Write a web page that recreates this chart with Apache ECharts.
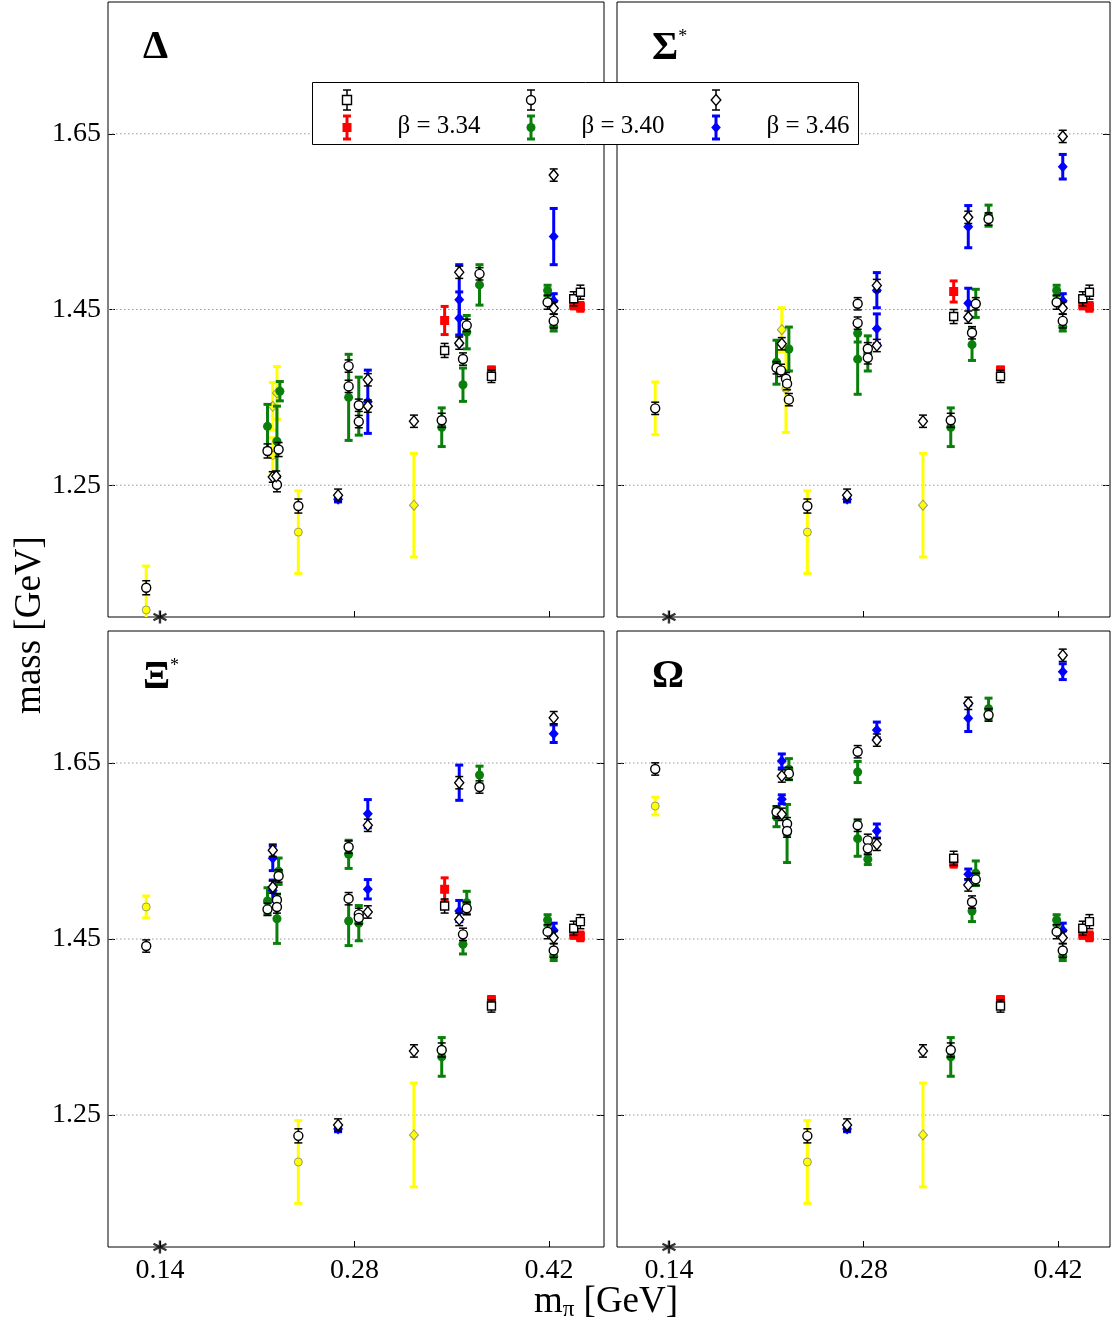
<!DOCTYPE html>
<html><head><meta charset="utf-8">
<script src="https://cdn.jsdelivr.net/npm/echarts@6/dist/echarts.min.js"></script>
<style>html,body{margin:0;padding:0;background:#fff}#c{width:1111px;height:1325px}</style>
</head><body><div id="c"></div><script>
// ---------- axes ----------
const X_MIN = 0.1026, X_MAX_L = 0.4596, X_MAX_R = 0.4574;
const Y_MIN = 1.1, Y_MAX = 1.8;
const xTicks = [0.14, 0.28, 0.42];
const yTicks = [1.25, 1.45, 1.65];
const panelNames = ['Δ', 'Σ', 'Ξ', 'Ω'];
const panelStars = ['', '*', '*', ''];
const betaLabels = ['β = 3.34', 'β = 3.40', 'β = 3.46'];
const physPoint = [[0.14, 1.1]];

// ---------- data [m_pi, mass, error] ----------
// points shared by all four panels
const common_sq  = [[0.3786,1.3739,0.007],[0.4378,1.4622,0.008],[0.4426,1.4697,0.008]];
const common_sqR = [[0.3786,1.3807,0.004],[0.4378,1.4557,0.005],[0.4426,1.4530,0.005]];
const common_ci  = [[0.2396,1.2263,0.008],[0.3428,1.3239,0.008],[0.4190,1.4583,0.008],[0.4234,1.4370,0.008]];
const common_ciG = [[0.3428,1.3160,0.022],[0.4190,1.4716,0.006],[0.4234,1.4305,0.005]];
const common_di  = [[0.2682,1.2386,0.007],[0.3228,1.3228,0.007],[0.4234,1.4515,0.007]];
const common_diB = [[0.2682,1.2340,0.003],[0.4234,1.4600,0.008]];
const common_yCi = [[0.2396,1.1966,0.047]];
const common_yDi = [[0.3228,1.2273,0.059]];

// Delta
const delta_sq  = [[0.3449,1.4034,0.008]];
const delta_sqR = [[0.3449,1.4375,0.016]];
const delta_ci  = [[0.1301,1.1333,0.008],[0.2174,1.2890,0.008],[0.2254,1.2906,0.008],[0.2242,1.2505,0.008],[0.2758,1.3856,0.007],[0.2758,1.3625,0.007],[0.2831,1.3410,0.007],[0.2831,1.3224,0.007],[0.3581,1.3936,0.007],[0.3608,1.4320,0.007],[0.3700,1.4906,0.007]];
const delta_ciG = [[0.2174,1.3170,0.025],[0.2263,1.3570,0.011],[0.2242,1.3000,0.040],[0.2758,1.3500,0.049],[0.2831,1.3400,0.033],[0.3581,1.3644,0.019],[0.3608,1.4242,0.019],[0.3700,1.4780,0.023]];
const delta_di  = [[0.2212,1.2594,0.006],[0.2237,1.2602,0.006],[0.2896,1.3700,0.007],[0.2896,1.3400,0.007],[0.3554,1.4924,0.007],[0.3554,1.4117,0.007],[0.4234,1.6030,0.007]];
const delta_diB = [[0.2896,1.3450,0.036],[0.3554,1.4610,0.040],[0.3554,1.4400,0.030],[0.4234,1.5330,0.032]];
const delta_yCi = [[0.1301,1.1080,0.050],[0.2212,1.2840,0.020]];
const delta_yDi = [[0.2212,1.3398,0.027],[0.2242,1.3550,0.030]];

// Sigma*
const sigma_sq  = [[0.3449,1.4420,0.008]];
const sigma_sqR = [[0.3449,1.4705,0.012]];
const sigma_ci  = [[0.1301,1.3375,0.007],[0.2174,1.3837,0.007],[0.2206,1.3807,0.007],[0.2242,1.3712,0.007],[0.2250,1.3656,0.007],[0.2263,1.3474,0.007],[0.2758,1.4565,0.007],[0.2758,1.4345,0.007],[0.2831,1.4053,0.007],[0.2831,1.3950,0.007],[0.3608,1.4565,0.007],[0.3581,1.4235,0.007],[0.3700,1.5530,0.007]];
const sigma_ciG = [[0.2174,1.3900,0.025],[0.2263,1.4050,0.025],[0.2758,1.4230,0.010],[0.2758,1.3935,0.040],[0.2831,1.4000,0.020],[0.3608,1.4570,0.016],[0.3581,1.4100,0.018],[0.3700,1.5568,0.012]];
const sigma_di  = [[0.2212,1.4110,0.007],[0.2896,1.4773,0.007],[0.2896,1.4090,0.007],[0.3554,1.5549,0.007],[0.3554,1.4413,0.007],[0.4234,1.6470,0.007]];
const sigma_diB = [[0.2896,1.4720,0.020],[0.2896,1.4280,0.017],[0.3554,1.5443,0.024],[0.3554,1.4572,0.017],[0.4234,1.6125,0.014]];
const sigma_yCi = [[0.1301,1.3375,0.030],[0.2242,1.3600,0.050]];
const sigma_yDi = [[0.2212,1.4270,0.025]];

// Xi*
const xi_sq  = [[0.3449,1.4875,0.008]];
const xi_sqR = [[0.3449,1.5065,0.013]];
const xi_ci  = [[0.1301,1.4420,0.007],[0.2254,1.5216,0.007],[0.2174,1.4837,0.007],[0.2242,1.4943,0.007],[0.2242,1.4864,0.007],[0.2758,1.5545,0.007],[0.2758,1.4958,0.007],[0.2831,1.4780,0.007],[0.2831,1.4740,0.007],[0.3608,1.4849,0.007],[0.3581,1.4553,0.007],[0.3700,1.6227,0.007]];
const xi_ciG = [[0.2254,1.5270,0.015],[0.2174,1.4932,0.015],[0.2242,1.4730,0.028],[0.2758,1.5462,0.016],[0.2758,1.4705,0.028],[0.2831,1.4680,0.020],[0.3608,1.4912,0.013],[0.3581,1.4440,0.011],[0.3700,1.6364,0.010]];
const xi_di  = [[0.2212,1.5508,0.007],[0.2212,1.5090,0.007],[0.2896,1.5792,0.007],[0.2896,1.4807,0.007],[0.3554,1.6276,0.007],[0.3554,1.4722,0.007],[0.4234,1.7015,0.007]];
const xi_diB = [[0.2212,1.5417,0.014],[0.2212,1.5050,0.012],[0.2896,1.5924,0.016],[0.2896,1.5065,0.011],[0.3554,1.6276,0.020],[0.3554,1.4818,0.012],[0.4234,1.6833,0.010]];
const xi_yCi = [[0.1301,1.4864,0.0125]];
const xi_yDi = [];

// Omega
const om_sq  = [[0.3449,1.5417,0.008]];
const om_sqR = [[0.3449,1.5367,0.005]];
const om_ci  = [[0.1301,1.6432,0.007],[0.2263,1.6379,0.007],[0.2174,1.5943,0.007],[0.2250,1.5810,0.007],[0.2250,1.5727,0.007],[0.2758,1.6628,0.007],[0.2758,1.5792,0.007],[0.2831,1.5621,0.007],[0.2831,1.5530,0.007],[0.3608,1.5178,0.007],[0.3581,1.4920,0.007],[0.3700,1.7045,0.007]];
const om_ciG = [[0.2263,1.6430,0.012],[0.2174,1.5886,0.011],[0.2250,1.5699,0.033],[0.2758,1.6398,0.012],[0.2758,1.5640,0.020],[0.2831,1.5406,0.006],[0.3608,1.5247,0.014],[0.3581,1.4818,0.012],[0.3700,1.7117,0.012]];
const om_di  = [[0.2212,1.6352,0.007],[0.2212,1.5917,0.007],[0.2896,1.5576,0.007],[0.2896,1.6760,0.007],[0.3554,1.7178,0.007],[0.3554,1.5114,0.007],[0.4234,1.7724,0.007]];
const om_diB = [[0.2212,1.6523,0.008],[0.2212,1.6088,0.005],[0.2896,1.5727,0.008],[0.2896,1.6875,0.009],[0.3554,1.7008,0.015],[0.3554,1.5235,0.006],[0.4234,1.7538,0.009]];
const om_yCi = [[0.1301,1.6011,0.010]];
const om_yDi = [];

// ---------- layout ----------
const FONT = '"Liberation Serif", "DejaVu Serif", serif';
const GRIDS = [
  {left:108, top:2, width:496, height:615},
  {left:617, top:2, width:493, height:615},
  {left:108, top:631, width:496, height:616},
  {left:617, top:631, width:493, height:616}
];
const GREEN = '#0b7f0b';
const STY = {
  yCi: {symbol:'circle',  size:8,      fill:'#ffff00', border:'#9a9a70', bw:1,   bar:'#ffff00', barW:3,   cap:4, z:2},
  yDi: {symbol:'diamond', size:[9,10], fill:'#ffff00', border:'#9a9a70', bw:1,   bar:'#ffff00', barW:3,   cap:4, z:2},
  sqR: {symbol:'rect',    size:9,      fill:'#ff0000', border:'#ff0000', bw:0,   bar:'#ff0000', barW:3,   cap:4, z:4},
  ciG: {symbol:'circle',  size:9,      fill:GREEN,     border:GREEN,     bw:0,   bar:GREEN,     barW:3,   cap:4, z:4},
  diB: {symbol:'diamond', size:[10,11],fill:'#0000ff', border:'#0000ff', bw:0,   bar:'#0000ff', barW:3,   cap:4, z:4},
  sq:  {symbol:'rect',    size:8,      fill:'#ffffff', border:'#000',    bw:1.4, bar:'#000',    barW:1.5, cap:4, z:6},
  ci:  {symbol:'circle',  size:9,      fill:'#ffffff', border:'#000',    bw:1.4, bar:'#000',    barW:1.5, cap:4, z:6},
  di:  {symbol:'diamond', size:[9,11], fill:'#ffffff', border:'#000',    bw:1.4, bar:'#000',    barW:1.5, cap:4, z:6}
};

const panels = [
  {yCi:delta_yCi, yDi:delta_yDi, sqR:delta_sqR, ciG:delta_ciG, diB:delta_diB, sq:delta_sq, ci:delta_ci, di:delta_di},
  {yCi:sigma_yCi, yDi:sigma_yDi, sqR:sigma_sqR, ciG:sigma_ciG, diB:sigma_diB, sq:sigma_sq, ci:sigma_ci, di:sigma_di},
  {yCi:xi_yCi, yDi:xi_yDi, sqR:xi_sqR, ciG:xi_ciG, diB:xi_diB, sq:xi_sq, ci:xi_ci, di:xi_di},
  {yCi:om_yCi, yDi:om_yDi, sqR:om_sqR, ciG:om_ciG, diB:om_diB, sq:om_sq, ci:om_ci, di:om_di}
];
const common = {yCi:common_yCi, yDi:common_yDi, sqR:common_sqR, ciG:common_ciG, diB:common_diB, sq:common_sq, ci:common_ci, di:common_di};

function errRender(st) {
  return function (params, api) {
    const x = api.value(0), y = api.value(1), e = api.value(2);
    const lo = api.coord([x, y - e]), hi = api.coord([x, y + e]);
    const cx = lo[0];
    const s = {stroke: st.bar, lineWidth: st.barW};
    return {type:'group', children:[
      {type:'line', shape:{x1:cx, y1:lo[1], x2:cx, y2:hi[1]}, style:s},
      {type:'line', shape:{x1:cx-st.cap, y1:lo[1], x2:cx+st.cap, y2:lo[1]}, style:s},
      {type:'line', shape:{x1:cx-st.cap, y1:hi[1], x2:cx+st.cap, y2:hi[1]}, style:s}
    ]};
  };
}
function gridLineRender(params, api) {
  const p = api.coord([api.value(0), api.value(1)]);
  const cs = params.coordSys;
  return {type:'line', shape:{x1:cs.x, y1:p[1], x2:cs.x + cs.width, y2:p[1]},
          style:{stroke:'#9a9a9a', lineWidth:1, lineDash:[1.5, 2.5]}};
}

const xAxis = [], yAxis = [], series = [];
GRIDS.forEach((g, i) => {
  const bottom = i >= 2, left = i % 2 === 0;
  xAxis.push({type:'value', gridIndex:i, min:X_MIN, max: left ? X_MAX_L : X_MAX_R,
    axisLine:{show:false}, splitLine:{show:false},
    axisTick:{show:true, inside:true, length:6, customValues:xTicks, lineStyle:{color:'#000'}},
    axisLabel:{show:bottom, customValues:xTicks, formatter:v => v.toFixed(2), fontFamily:FONT, fontSize:28, color:'#000', margin:10}});
});
GRIDS.forEach((g, i) => {
  const left = i % 2 === 0;
  yAxis.push({type:'value', gridIndex:i, min:Y_MIN, max:Y_MAX,
    axisLine:{show:false}, splitLine:{show:false},
    axisTick:{show:true, inside:true, length:7, customValues:yTicks, lineStyle:{color:'#000'}},
    axisLabel:{show:left, customValues:yTicks, formatter:v => v.toFixed(2), fontFamily:FONT, fontSize:28, color:'#000', margin:7}});
});
GRIDS.forEach((g, i) => {
  yAxis.push({type:'value', gridIndex:i, min:Y_MIN, max:Y_MAX, position:'right',
    axisLine:{show:false}, splitLine:{show:false}, axisLabel:{show:false},
    axisTick:{show:true, inside:true, length:7, customValues:yTicks, lineStyle:{color:'#000'}}});
});

GRIDS.forEach((g, i) => {
  series.push({type:'custom', xAxisIndex:i, yAxisIndex:i, silent:true, z:1,
    data: yTicks.map(v => [X_MIN, v]), encode:{x:0, y:1}, renderItem:gridLineRender});
  const P = panels[i];
  ['yCi','yDi','sqR','ciG','diB','sq','ci','di'].forEach(k => {
    const st = STY[k];
    const data = common[k].concat(P[k]);
    if (!data.length) return;
    series.push({type:'custom', xAxisIndex:i, yAxisIndex:i, silent:true, clip:true, z:st.z,
      data, encode:{x:0, y:1}, renderItem:errRender(st)});
    series.push({type:'scatter', xAxisIndex:i, yAxisIndex:i, silent:true, z:st.z + 1,
      data, symbol:st.symbol, symbolSize:st.size,
      itemStyle:{color:st.fill, borderColor:st.border, borderWidth:st.bw, opacity:1}});
  });
  series.push({type:'scatter', xAxisIndex:i, yAxisIndex:i, silent:true, clip:false, z:9,
    data: physPoint, symbol:'path://M5,0 L5,10 M0.67,2.5 L9.33,7.5 M0.67,7.5 L9.33,2.5', symbolSize:13,
    itemStyle:{color:'none', borderColor:'#000', borderWidth:2.4}});
});

// ---------- decorations: titles, axis names, legend ----------
const graphic = [];
const titlePos = [[143, 28], [652, 28], [143, 657], [652, 657]];
titlePos.forEach((p, i) => {
  graphic.push({type:'text', left:p[0], top:p[1], z:100,
    style:{text: '{b|' + panelNames[i] + '}' + (panelStars[i] ? '{s|' + panelStars[i] + '}' : ''),
      rich:{b:{fontFamily:FONT, fontWeight:'bold', fontSize:40, fill:'#000'},
            s:{fontFamily:FONT, fontSize:18, fill:'#000', verticalAlign:'top', padding:[0,0,24,0]}}}});
});
graphic.push({type:'text', x:30, y:625, rotation:Math.PI/2, z:100,
  style:{text:'mass [GeV]', fontFamily:FONT, fontSize:37, fill:'#000', align:'center', verticalAlign:'middle'}});
graphic.push({type:'text', x:606, y:1302, z:100,
  style:{text:'{a|m}{s|π}{a| [GeV]}', align:'center', verticalAlign:'middle',
    rich:{a:{fontFamily:FONT, fontSize:37, fill:'#000'}, s:{fontFamily:FONT, fontSize:23, fill:'#000', padding:[15,0,0,0]}}}});

// legend box
graphic.push({type:'rect', shape:{x:312.5, y:82.5, width:546, height:62}, z:200,
  style:{fill:'#fff', stroke:'#000', lineWidth:1}});
const legCols = [347, 531, 716];
const legKeys = [['sq','sqR'], ['ci','ciG'], ['di','diB']];
function legBar(cx, y0, y1, color, w) {
  return [
    {type:'line', shape:{x1:cx, y1:y0, x2:cx, y2:y1}, style:{stroke:color, lineWidth:w}, z:201},
    {type:'line', shape:{x1:cx-4, y1:y0, x2:cx+4, y2:y0}, style:{stroke:color, lineWidth:w}, z:201},
    {type:'line', shape:{x1:cx-4, y1:y1, x2:cx+4, y2:y1}, style:{stroke:color, lineWidth:w}, z:201}
  ];
}
function legMarker(k, cx, cy) {
  const st = STY[k];
  const style = {fill:st.fill, stroke:st.bw ? st.border : null, lineWidth:st.bw};
  if (st.symbol === 'rect') return {type:'rect', shape:{x:cx-4.5, y:cy-4.5, width:9, height:9}, style, z:202};
  if (st.symbol === 'circle') return {type:'circle', shape:{cx, cy, r:4.5}, style, z:202};
  return {type:'polygon', shape:{points:[[cx, cy-5.5],[cx+4.8, cy],[cx, cy+5.5],[cx-4.8, cy]]}, style, z:202};
}
legCols.forEach((cx, j) => {
  const kb = legKeys[j][0], kc = legKeys[j][1];
  legBar(cx, 90, 110, '#000', 1.5).forEach(e => graphic.push(e));
  graphic.push(legMarker(kb, cx, 100));
  legBar(cx, 116, 139, STY[kc].bar, 3).forEach(e => graphic.push(e));
  graphic.push(legMarker(kc, cx, 127.5));
  graphic.push({type:'text', x:cx + 92, y:126, z:202,
    style:{text:betaLabels[j], fontFamily:FONT, fontSize:25, fill:'#000', align:'center', verticalAlign:'middle'}});
});

const chart = echarts.init(document.getElementById('c'), null, {renderer:'canvas'});
chart.setOption({
  animation:false,
  backgroundColor:'#fff',
  grid: GRIDS.map(g => Object.assign({show:true, borderColor:'#000', borderWidth:1, backgroundColor:'transparent'}, g)),
  xAxis, yAxis, series, graphic
});
</script></body></html>
